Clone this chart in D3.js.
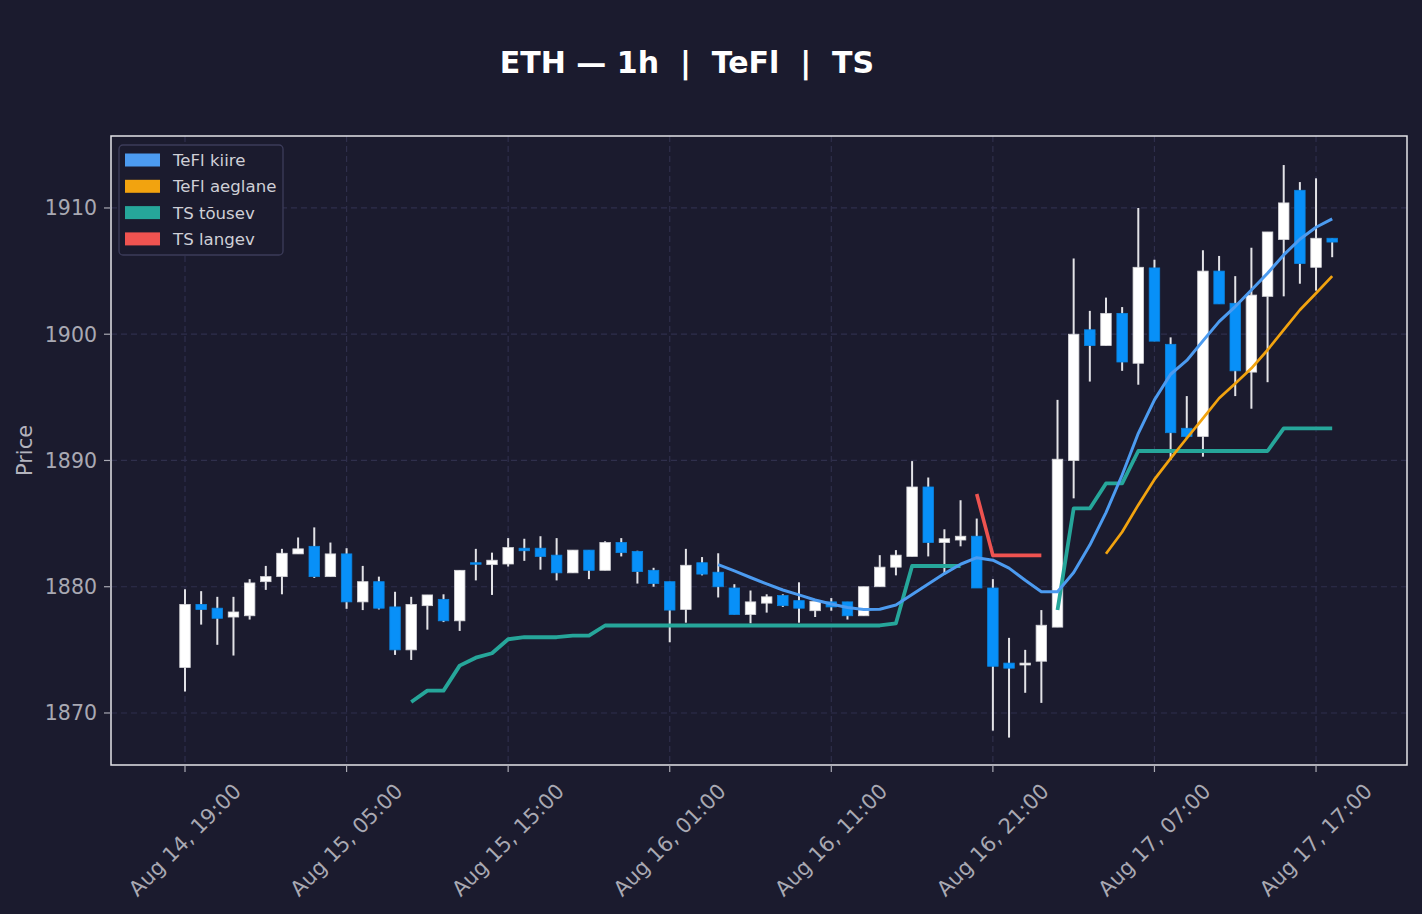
<!DOCTYPE html>
<html lang="en">
<head>
  <meta charset="UTF-8">
  <title>ETH 1h TeFl TS</title>
  <style>
    body { margin: 0; background: #1b1b2e; }
    svg { display: block; }
    text { font-family: "DejaVu Sans", sans-serif; }
  </style>
</head>
<body>
  <div id="chart"></div>

  <script src="https://d3js.org/d3.v7.min.js"></script>
  <script>
    // hourly candles, first one is Aug 14 19:00
    const startTime = Date.UTC(2023, 7, 14, 19);

    const opens = [
      1873.6, 1878.6, 1878.3, 1877.6, 1877.7, 1880.4, 1880.8, 1882.6, 1883.2, 1880.8,
      1882.6, 1878.8, 1880.4, 1878.4, 1875.0, 1878.5, 1879.0, 1877.3, 1881.9, 1881.75,
      1881.8, 1883.05, 1883.05, 1882.5, 1881.1, 1882.9, 1881.3, 1883.5, 1882.8, 1881.3,
      1880.4, 1878.2, 1881.9, 1881.15, 1879.9, 1877.8, 1878.7, 1879.3, 1878.9, 1878.1,
      1878.8, 1878.8, 1877.7, 1880.0, 1881.55, 1882.4, 1887.9, 1883.5, 1883.7, 1884.0,
      1879.9, 1873.95, 1873.8, 1874.1, 1876.8, 1890.0, 1900.35, 1899.1, 1901.65, 1897.7,
      1905.25, 1899.2, 1892.55, 1891.9, 1905.0, 1902.45, 1897.0, 1903.0, 1907.5, 1911.4,
      1905.3, 1907.6
    ];
    const highs = [
      1879.8, 1879.65, 1879.2, 1879.2, 1880.6, 1881.65, 1883.0, 1883.9, 1884.7, 1883.5,
      1883.05, 1881.65, 1880.8, 1879.6, 1879.2, 1879.35, 1879.4, 1881.3, 1883.0, 1882.7,
      1883.85, 1883.8, 1884.0, 1883.85, 1882.9, 1882.9, 1883.6, 1883.85, 1882.85, 1881.5,
      1880.4, 1883.0, 1882.35, 1882.65, 1880.2, 1879.7, 1879.4, 1879.4, 1880.35, 1879.0,
      1879.1, 1878.8, 1880.0, 1882.5, 1882.9, 1889.95, 1888.65, 1884.55, 1886.85, 1885.4,
      1880.6, 1875.95, 1875.0, 1878.15, 1894.8, 1906.0, 1901.85, 1902.9, 1902.15, 1910.0,
      1905.9, 1899.75, 1895.1, 1906.65, 1906.2, 1904.6, 1906.85, 1908.1, 1913.4, 1912.05,
      1912.35, 1907.6
    ];
    const lows = [
      1871.7, 1877.0, 1875.4, 1874.55, 1877.4, 1879.75, 1879.4, 1882.6, 1880.7, 1880.8,
      1878.25, 1878.15, 1878.2, 1874.6, 1874.2, 1876.6, 1877.2, 1876.5, 1880.5, 1879.35,
      1881.6, 1882.05, 1881.35, 1880.5, 1881.1, 1880.6, 1881.3, 1882.4, 1880.25, 1880.0,
      1875.6, 1877.15, 1880.9, 1879.15, 1877.8, 1877.1, 1877.95, 1878.4, 1877.15, 1877.6,
      1878.1, 1877.4, 1877.7, 1880.0, 1880.9, 1882.4, 1882.4, 1881.0, 1883.2, 1879.9,
      1868.6, 1868.05, 1871.6, 1870.8, 1876.8, 1887.0, 1896.25, 1899.1, 1897.1, 1896.0,
      1899.45, 1890.05, 1891.7, 1890.3, 1902.4, 1895.1, 1894.1, 1896.2, 1903.0, 1904.0,
      1903.45, 1906.1
    ];
    const closes = [
      1878.6, 1878.2, 1877.5, 1878.0, 1880.3, 1880.8, 1882.65, 1883.0, 1880.8, 1882.6,
      1878.8, 1880.4, 1878.3, 1875.0, 1878.6, 1879.35, 1877.3, 1881.3, 1881.8, 1882.1,
      1883.1, 1882.85, 1882.4, 1881.1, 1882.9, 1881.3, 1883.5, 1882.7, 1881.2, 1880.25,
      1878.15, 1881.7, 1881.0, 1880.0, 1877.8, 1878.8, 1879.2, 1878.5, 1878.3, 1878.85,
      1878.4, 1877.7, 1880.0, 1881.55, 1882.5, 1887.9, 1883.5, 1883.8, 1884.0, 1879.9,
      1873.7, 1873.55, 1873.95, 1876.95, 1890.1, 1900.0, 1899.1, 1901.65, 1897.8, 1905.3,
      1899.45, 1892.2, 1891.9, 1905.0, 1902.4, 1897.1, 1903.1, 1908.1, 1910.4, 1905.6,
      1907.6, 1907.3
    ];

    // overlays, null where the series is not drawn
    const N = null;
    const teflKiire = [
      N, N, N, N, N, N, N, N, N, N, N, N, N, N, N, N, N, N, N, N,
      N, N, N, N, N, N, N, N, N, N, N, N, N,
      1881.75, 1881.25, 1880.73, 1880.22, 1879.74, 1879.35, 1878.95, 1878.63, 1878.35, 1878.2,
      1878.22, 1878.55, 1879.38, 1880.22, 1881.04, 1881.78, 1882.3, 1882.1, 1881.47, 1880.51,
      1879.6, 1879.6, 1881.12, 1883.3, 1885.87, 1888.85, 1892.15, 1894.8, 1896.83, 1897.92,
      1899.47, 1901.0, 1902.19, 1903.5, 1904.83, 1906.28, 1907.52, 1908.47, 1909.13
    ];
    const teflAeglane = [
      N, N, N, N, N, N, N, N, N, N, N, N, N, N, N, N, N, N, N, N,
      N, N, N, N, N, N, N, N, N, N, N, N, N, N, N, N, N, N, N, N,
      N, N, N, N, N, N, N, N, N, N, N, N, N, N, N, N, N,
      1882.61, 1884.33, 1886.48, 1888.5, 1890.17, 1891.76, 1893.34, 1894.93, 1896.1, 1897.3,
      1898.75, 1900.34, 1901.92, 1903.24, 1904.6
    ];
    const tsTousev = [
      N, N, N, N, N, N, N, N, N, N, N, N, N, N,
      1870.87, 1871.77, 1871.77, 1873.75, 1874.38, 1874.73, 1875.84, 1876.0, 1876.0, 1876.0,
      1876.12, 1876.12, 1876.93, 1876.93, 1876.93, 1876.93, 1876.93, 1876.93, 1876.93, 1876.93,
      1876.93, 1876.93, 1876.93, 1876.93, 1876.93, 1876.93, 1876.93, 1876.93, 1876.93, 1876.93,
      1877.1, 1881.64, 1881.64, 1881.64, 1881.64,
      N, N, N, N, N,
      1878.16, 1886.2, 1886.2, 1888.18, 1888.18, 1890.75, 1890.75, 1890.75, 1890.75, 1890.75,
      1890.75, 1890.75, 1890.75, 1890.75, 1892.55, 1892.55, 1892.55, 1892.55
    ];
    const tsLangev = [
      N, N, N, N, N, N, N, N, N, N, N, N, N, N, N, N, N, N, N, N,
      N, N, N, N, N, N, N, N, N, N, N, N, N, N, N, N, N, N, N, N,
      N, N, N, N, N, N, N, N, N,
      1887.35, 1882.48, 1882.48, 1882.48, 1882.48,
      N, N, N, N, N, N, N, N, N, N, N, N, N, N, N, N, N, N
    ];

    const yTicks = [1870, 1880, 1890, 1900, 1910];
    const legendItems = [
      { name: "TeFl kiire", color: "#4c9bf0" },
      { name: "TeFl aeglane", color: "#f2a30f" },
      { name: "TS tõusev", color: "#26a69a" },
      { name: "TS langev", color: "#ef5350" }
    ];

    const HOUR = 3600 * 1000;
    const times = opens.map((d, i) => new Date(startTime + i * HOUR));
    const candles = opens.map((o, i) => ({
      t: times[i], o: o, h: highs[i], l: lows[i], c: closes[i]
    }));

    const width = 1422, height = 914;
    const margin = { top: 136, right: 15, bottom: 149, left: 111 };
    const innerW = width - margin.left - margin.right;
    const innerH = height - margin.top - margin.bottom;

    const svg = d3.select("#chart").append("svg")
      .attr("width", width)
      .attr("height", height);

    svg.append("rect").attr("width", width).attr("height", height).attr("fill", "#1b1b2e");

    const x = d3.scaleTime()
      .domain([new Date(startTime - 4.58 * HOUR), new Date(startTime + 75.63 * HOUR)])
      .range([0, innerW]);
    const y = d3.scaleLinear()
      .domain([1865.88, 1915.70])
      .range([innerH, 0]);

    const g = svg.append("g").attr("transform", `translate(${margin.left},${margin.top})`);

    // x ticks every 10 hours from the first candle
    const xTicks = d3.range(0, 8).map(k => new Date(startTime + k * 10 * HOUR));
    const fmt = d3.utcFormat("%b %d, %H:%M");

    // grid
    g.append("g").selectAll("line").data(yTicks).enter().append("line")
      .attr("x1", 0).attr("x2", innerW)
      .attr("y1", d => y(d)).attr("y2", d => y(d))
      .attr("stroke", "#2f2f4c").attr("stroke-width", 1.2).attr("stroke-dasharray", "6,4");
    g.append("g").selectAll("line").data(xTicks).enter().append("line")
      .attr("x1", d => x(d)).attr("x2", d => x(d))
      .attr("y1", 0).attr("y2", innerH)
      .attr("stroke", "#2f2f4c").attr("stroke-width", 1.2).attr("stroke-dasharray", "6,4");

    // candles
    const bodyW = 10.5;
    const candle = g.append("g").selectAll("g").data(candles).enter().append("g");
    candle.append("line")
      .attr("x1", d => x(d.t)).attr("x2", d => x(d.t))
      .attr("y1", d => y(d.h)).attr("y2", d => y(d.l))
      .attr("stroke", "#e2e2e6").attr("stroke-width", 2);
    candle.append("rect")
      .attr("x", d => x(d.t) - bodyW / 2)
      .attr("width", bodyW)
      .attr("y", d => y(Math.max(d.o, d.c)))
      .attr("height", d => Math.max(1.5, Math.abs(y(d.o) - y(d.c))))
      .attr("fill", d => d.c >= d.o ? "#ffffff" : "#0890f8")
      .attr("stroke", d => d.c >= d.o ? "#d4d4d8" : "#0a84e0")
      .attr("stroke-width", 0.8);

    // overlay lines
    const lineFor = arr => d3.line()
      .defined((d, i) => arr[i] != null)
      .x((d, i) => x(times[i]))
      .y((d, i) => y(arr[i]))(arr);

    g.append("path").attr("d", lineFor(tsTousev))
      .attr("fill", "none").attr("stroke", "#26a69a").attr("stroke-width", 3.8)
      .attr("stroke-linejoin", "round");
    g.append("path").attr("d", lineFor(tsLangev))
      .attr("fill", "none").attr("stroke", "#ef5350").attr("stroke-width", 3.6)
      .attr("stroke-linejoin", "round");
    g.append("path").attr("d", lineFor(teflAeglane))
      .attr("fill", "none").attr("stroke", "#f2a30f").attr("stroke-width", 2.7)
      .attr("stroke-linejoin", "round");
    g.append("path").attr("d", lineFor(teflKiire))
      .attr("fill", "none").attr("stroke", "#4c9bf0").attr("stroke-width", 3)
      .attr("stroke-linejoin", "round");

    // frame
    g.append("rect").attr("width", innerW).attr("height", innerH)
      .attr("fill", "none").attr("stroke", "#e4e4e8").attr("stroke-width", 1.5);

    // y axis
    const yAxis = g.append("g");
    yAxis.selectAll("line").data(yTicks).enter().append("line")
      .attr("x1", -7).attr("x2", 0)
      .attr("y1", d => y(d)).attr("y2", d => y(d))
      .attr("stroke", "#aaaab4").attr("stroke-width", 1.2);
    yAxis.selectAll("text").data(yTicks).enter().append("text")
      .attr("x", -14).attr("y", d => y(d))
      .attr("dy", "0.36em")
      .attr("text-anchor", "end")
      .attr("fill", "#a9a9b3")
      .style("font-size", "20.5px")
      .text(d => d);

    svg.append("text")
      .attr("transform", `translate(25,${margin.top + innerH / 2}) rotate(-90)`)
      .attr("text-anchor", "middle")
      .attr("dominant-baseline", "central")
      .attr("fill", "#b4b4be")
      .style("font-size", "21px")
      .text("Price");

    // x axis
    const xAxis = g.append("g").attr("transform", `translate(0,${innerH})`);
    xAxis.selectAll("line").data(xTicks).enter().append("line")
      .attr("x1", d => x(d)).attr("x2", d => x(d))
      .attr("y1", 0).attr("y2", 7)
      .attr("stroke", "#aaaab4").attr("stroke-width", 1.2);
    xAxis.selectAll("text").data(xTicks).enter().append("text")
      .attr("transform", d => `translate(${x(d)},75) rotate(-45)`)
      .attr("text-anchor", "middle")
      .attr("dominant-baseline", "central")
      .attr("fill", "#a9a9b3")
      .style("font-size", "21px")
      .text(d => fmt(d));

    // legend
    const legend = g.append("g").attr("transform", "translate(8,9)");
    legend.append("rect")
      .attr("width", 164).attr("height", 110).attr("rx", 4)
      .attr("fill", "#1b1b2e").attr("stroke", "#3c3c5a").attr("stroke-width", 1.3);
    const item = legend.selectAll("g.item").data(legendItems).enter().append("g")
      .attr("class", "item")
      .attr("transform", (d, i) => `translate(6,${15 + i * 26.3})`);
    item.append("rect")
      .attr("x", 0).attr("y", -6.5).attr("width", 35).attr("height", 13)
      .attr("fill", d => d.color);
    item.append("text")
      .attr("x", 48).attr("y", 0).attr("dy", "0.36em")
      .attr("fill", "#cfcfd6")
      .style("font-size", "16.6px")
      .text(d => d.name);

    // title
    svg.append("text")
      .attr("x", 687).attr("y", 73)
      .attr("text-anchor", "middle")
      .attr("fill", "#ffffff")
      .style("font-size", "30px")
      .style("font-weight", "bold")
      .style("white-space", "pre")
      .attr("xml:space", "preserve")
      .text("ETH \u2014 1h  |  TeFl  |  TS");
  </script>
</body>
</html>
